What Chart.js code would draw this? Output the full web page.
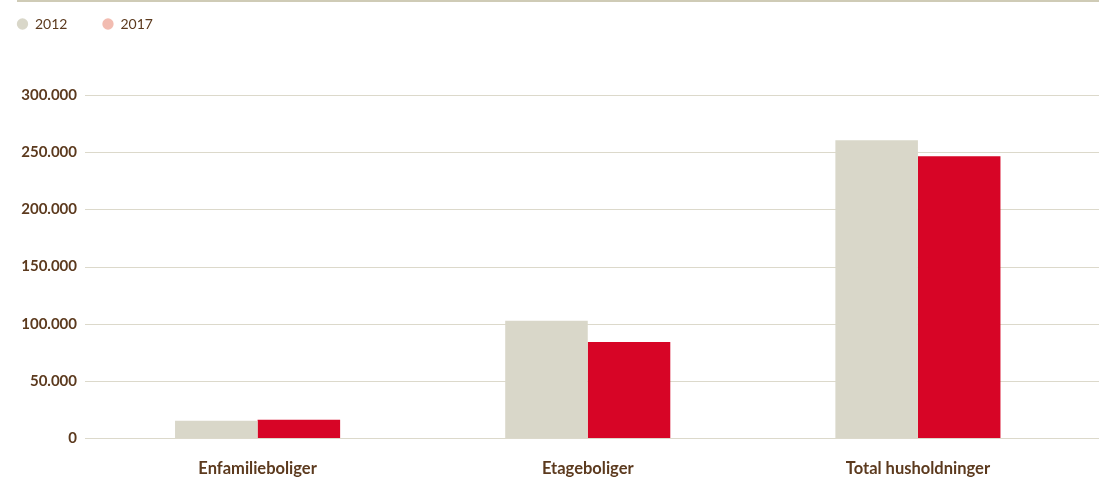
<!DOCTYPE html>
<html>
<head>
<meta charset="utf-8">
<script src="https://cdn.jsdelivr.net/npm/chart.js@4.4.0/dist/chart.umd.min.js"></script>
<style>
  html, body { margin: 0; padding: 0; background: #fff; }
</style>
</head>
<body>
<canvas id="myChart" width="1099" height="477"></canvas>
<script>
let categories = ['Enfamilieboliger', 'Etageboliger', 'Total husholdninger'];
let years = ['2012', '2017'];
let values2012 = [15000, 102500, 260500];
let values2017 = [16000, 84000, 246500];
let yTicks = [0, 50000, 100000, 150000, 200000, 250000, 300000];

let textColor = '#5c3a1e';
let gridColor = '#dcd9cb';
let color2012 = '#d9d7c9';
let color2017 = '#d70526';
let legend2017 = '#f2bcb1';

function fmt(v)
{
    return String(v).replace(/\B(?=(\d{3})+(?!\d))/g, '.');
}

// top rule + grid lines that run past the plot area
let decor = {
    id: 'decor',
    beforeUpdate(chart)
    {
        if (!chart.legend || chart.legend._patched) return;
        let fit = chart.legend.fit;
        chart.legend.fit = function () { fit.call(this); this.height = 95; };
        chart.legend._patched = true;
    },
    afterLayout(chart)
    {
        chart.legend.left = -18;
        chart.legend.top = -18;
    },
    beforeDatasetsDraw(chart)
    {
        let c = chart.ctx;
        let y = chart.scales.y;
        c.save();
        c.strokeStyle = gridColor;
        c.lineWidth = 1;
        yTicks.forEach(function (t)
        {
            let py = Math.round(y.getPixelForValue(t)) + 0.5;
            c.beginPath();
            c.moveTo(85, py);
            c.lineTo(chart.width, py);
            c.stroke();
        });
        c.fillStyle = '#cfcbb6';
        c.fillRect(17, 0, chart.width - 17, 2);
        c.restore();
    }
};

let ctx = document.getElementById('myChart').getContext('2d');

let myChart = new Chart(ctx,
{
    type: 'bar',
    data:
    {
        labels: categories,
        datasets:
        [
            { label: years[0], data: values2012, backgroundColor: color2012, legendColor: color2012 },
            { label: years[1], data: values2017, backgroundColor: color2017, legendColor: legend2017 }
        ]
    },
    options:
    {
        responsive: false,
        animation: false,
        layout: { padding: { left: 0, right: 16, top: 0, bottom: 0 } },
        datasets: { bar: { categoryPercentage: 0.5, barPercentage: 1 } },
        plugins:
        {
            tooltip: { enabled: false },
            legend:
            {
                position: 'top',
                align: 'start',
                labels:
                {
                    usePointStyle: true,
                    pointStyle: 'circle',
                    boxWidth: 11,
                    boxHeight: 8,
                    padding: 35,
                    color: textColor,
                    font: { family: 'Lato', size: 14 },
                    generateLabels: function (chart)
                    {
                        return chart.data.datasets.map(function (ds, i)
                        {
                            return {
                                text: ds.label,
                                fillStyle: ds.legendColor,
                                strokeStyle: ds.legendColor,
                                lineWidth: 0,
                                pointStyle: 'circle',
                                fontColor: textColor,
                                datasetIndex: i
                            };
                        });
                    }
                }
            }
        },
        scales:
        {
            x:
            {
                grid: { display: false, drawTicks: false },
                border: { display: false },
                ticks:
                {
                    padding: 21,
                    color: textColor,
                    font: { family: 'Lato', size: 16.5, weight: 'bold' }
                },
                afterFit: function (scale) { scale.height = 39; }
            },
            y:
            {
                min: 0,
                max: 300000,
                grid: { display: false, drawTicks: false },
                border: { display: false },
                ticks:
                {
                    stepSize: 50000,
                    padding: 15.5,
                    color: textColor,
                    font: { family: 'Lato', size: 15, weight: 'bold' },
                    callback: function (v) { return fmt(v); }
                },
                afterFit: function (scale) { scale.width = 92.5; }
            }
        }
    },
    plugins: [decor]
});
</script>
</body>
</html>
